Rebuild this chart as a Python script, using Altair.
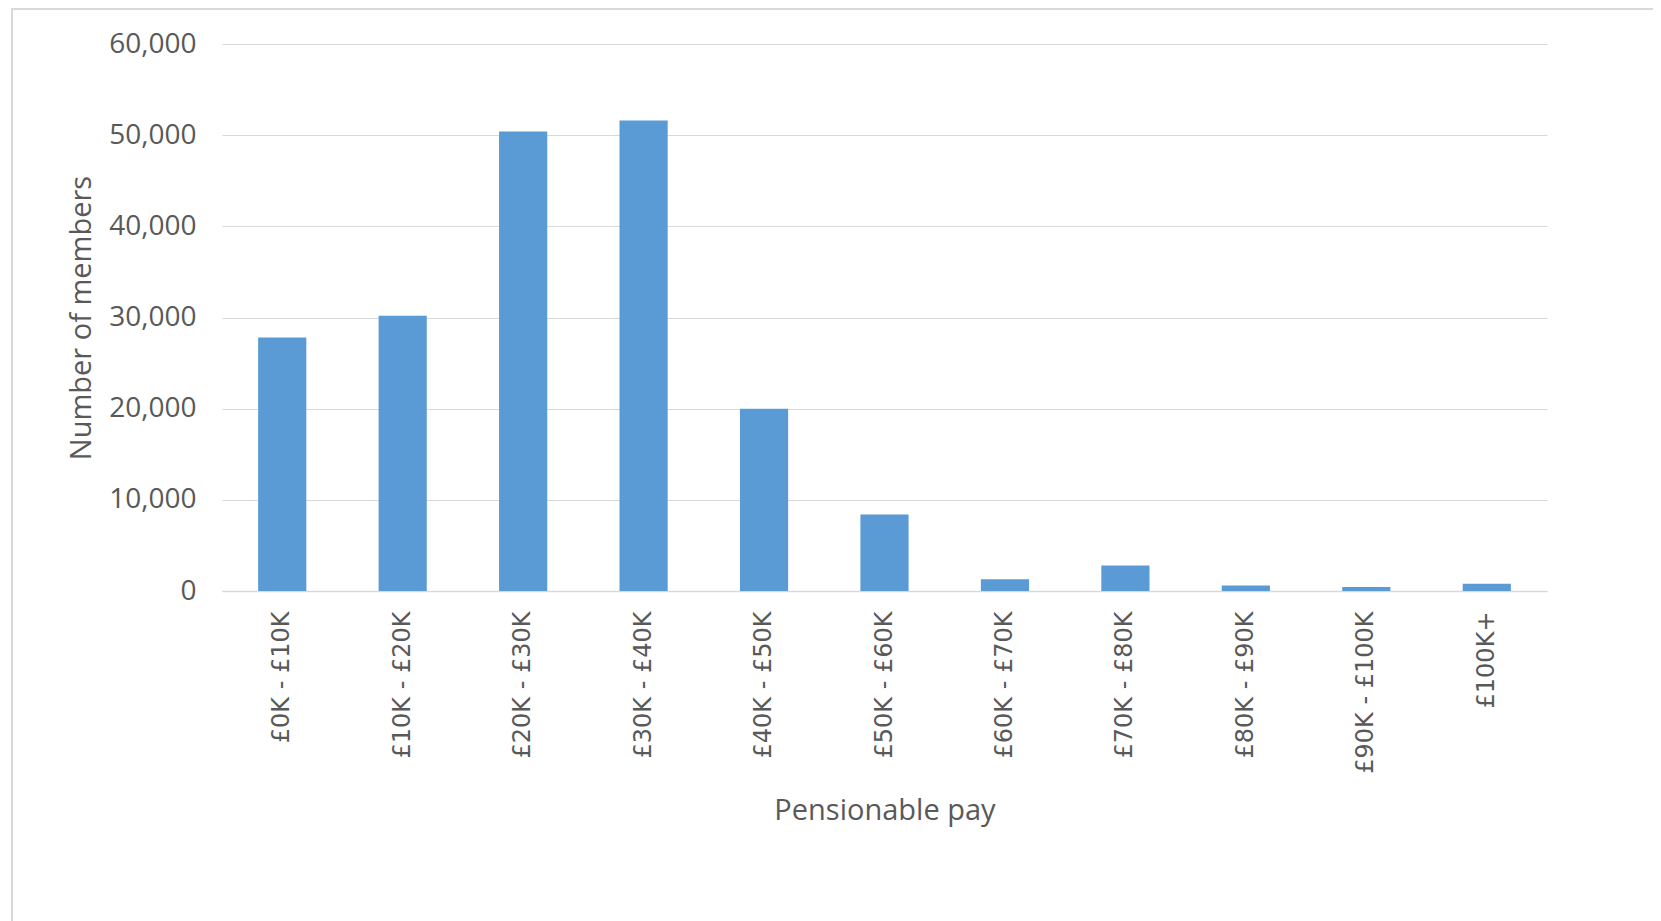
import altair as alt
import pandas as pd

categories = ["£0K - £10K", "£10K - £20K", "£20K - £30K", "£30K - £40K", "£40K - £50K",
              "£50K - £60K", "£60K - £70K", "£70K - £80K", "£80K - £90K", "£90K - £100K", "£100K+"]
members = [27800, 30200, 50400, 51600, 20000, 8400, 1300, 2800, 600, 450, 800]

df = pd.DataFrame({"band": categories, "members": members})

grey_text = "#595959"
font = "Open Sans"

bars = alt.Chart(df).mark_bar(color="#5B9BD5").encode(
    x=alt.X("band:N", sort=categories, title="Pensionable pay",
            scale=alt.Scale(paddingInner=0.6, paddingOuter=0.3),
            axis=alt.Axis(labelAngle=-90, labelPadding=20, ticks=False,
                          domainColor="#D9D9D9", domainWidth=1.5,
                          labelFontSize=24, labelColor=grey_text, labelFont="DejaVu Sans",
                          titleFontSize=29, titleColor=grey_text, titleFont=font,
                          titleFontWeight="normal", titlePadding=23)),
    y=alt.Y("members:Q", title="Number of members",
            scale=alt.Scale(domain=[0, 60000], nice=False),
            axis=alt.Axis(values=[0, 10000, 20000, 30000, 40000, 50000, 60000],
                          format=",.0f", ticks=False, domain=False,
                          gridColor="#D9D9D9", gridWidth=1.2,
                          labelFontSize=28, labelColor=grey_text, labelFont=font,
                          labelPadding=26,
                          titleFontSize=29, titleColor=grey_text, titleFont=font,
                          titleFontWeight="normal", titlePadding=12)),
)

# light grey chart-area frame (decorative, as in the reference; right/bottom run off the page)
frame = alt.Chart(df).mark_rect(filled=False, stroke="#D9D9D9", strokeWidth=2).encode(
    x=alt.value(-210), x2=alt.value(1700),
    y=alt.value(-35), y2=alt.value(1000),
)

chart = alt.layer(frame, bars).properties(
    width=1325, height=547,
    autosize=alt.AutoSizeParams(type="none"),
    padding={"left": 214, "top": 36, "right": 106, "bottom": 330},
).configure_view(stroke=None)

chart.save("out.html", embed_options={"renderer": "svg", "actions": False})
